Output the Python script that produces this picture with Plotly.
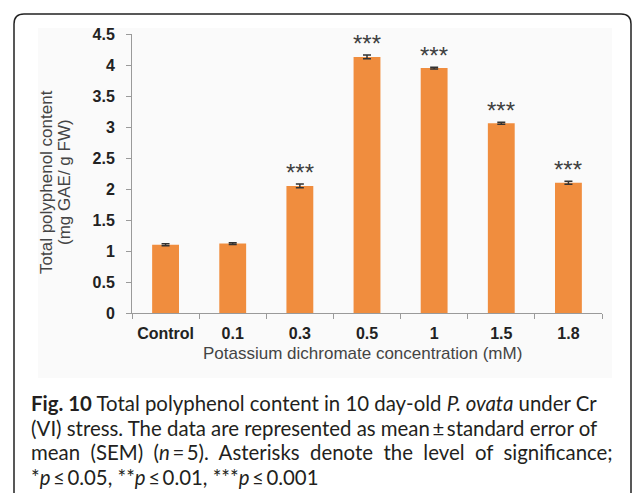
import plotly.graph_objects as go

categories = ["Control", "0.1", "0.3", "0.5", "1", "1.5", "1.8"]
polyphenol = [1.10, 1.12, 2.05, 4.13, 3.95, 3.06, 2.10]
sem = [0.015, 0.015, 0.03, 0.03, 0.015, 0.015, 0.025]
significance = ["", "", "***", "***", "***", "***", "***"]

W, H = 633, 493
L, R, T, B = 132, 31, 34, 180
PW, PH = W - L - R, H - T - B


def px(x):
    return (x - L) / PW


def py(y):
    return (H - B - y) / PH


fig = go.Figure()
fig.add_trace(go.Bar(
    x=categories, y=polyphenol,
    marker=dict(color="#F08D3E", line=dict(width=0)),
    error_y=dict(type="data", array=sem, color="#333333", thickness=1.5, width=4),
    width=0.4,
))

for i, (val, err, sig) in enumerate(zip(polyphenol, sem, significance)):
    if sig:
        fig.add_annotation(x=i, y=val + err, text=sig, showarrow=False,
                           yanchor="bottom", yshift=-4,
                           font=dict(family="Liberation Sans", size=24, color="#3f3f3f"))

# axis titles
title_font = dict(family="Liberation Sans", size=17, color="#444444")
for xpos, txt in [(46, "Total polyphenol content"), (64, "(mg GAE/ g FW)")]:
    fig.add_annotation(xref="paper", yref="paper", x=px(xpos), y=py(182),
                       text=txt, textangle=-90, showarrow=False,
                       xanchor="center", yanchor="middle", font=title_font)
fig.add_annotation(xref="paper", yref="paper", x=px(362), y=py(353),
                   text="Potassium dichromate concentration (mM)",
                   showarrow=False, xanchor="center", yanchor="middle",
                   font=dict(family="Liberation Sans", size=17, color="#444444"))

# panel background and rounded frame
fig.add_shape(type="rect", xref="paper", yref="paper", layer="below",
              x0=px(38), x1=px(612), y0=py(378), y1=py(28),
              fillcolor="#fafafa", line=dict(width=0))
r = 10
frame = (f"M {px(14)},{py(500)} L {px(14)},{py(14 + r)} "
         f"Q {px(14)},{py(14)} {px(14 + r)},{py(14)} "
         f"L {px(631 - r)},{py(14)} Q {px(631)},{py(14)} {px(631)},{py(14 + r)} "
         f"L {px(631)},{py(500)}")
fig.add_shape(type="path", xref="paper", yref="paper", path=frame,
              line=dict(color="#222222", width=1.5))

wide = " \u00a0"
caption = [
    "<b>Fig. 10</b> Total polyphenol content in 10 day-old <i>P. ovata</i> under Cr",
    "(VI) stress. The data are represented as mean\u2009\u00b1\u2009standard error of",
    wide.join(["mean", "(SEM)", "(<i>n</i>\u2009=\u20095).", "Asterisks", "denote",
               "the", "level", "of", "significance;"]),
    "*<i>p</i>\u2009\u2264\u20090.05, **<i>p</i>\u2009\u2264\u20090.01, ***<i>p</i>\u2009\u2264\u20090.001",
]
for i, line in enumerate(caption):
    fig.add_annotation(xref="paper", yref="paper", x=px(29), y=py(403 + i * 24.5),
                       text=line, showarrow=False, xanchor="left", yanchor="middle",
                       font=dict(family="Lato", size=20.4, color="#231f20"))

fig.update_layout(
    width=W, height=H,
    margin=dict(l=L, r=R, t=T, b=B, autoexpand=False),
    paper_bgcolor="white", plot_bgcolor="rgba(0,0,0,0)",
    showlegend=False,
    font=dict(family="Liberation Sans"),
)
fig.update_xaxes(
    automargin=False, showline=True, linecolor="#9a9a9a", linewidth=1,
    ticks="outside", tickson="boundaries", ticklen=5, tickcolor="#9a9a9a",
    ticklabelstandoff=6,
    tickfont=dict(size=16, color="#222222", family="Liberation Sans", weight="bold"),
    showgrid=False,
)
fig.update_yaxes(
    automargin=False, range=[0, 4.5], dtick=0.5, showline=True, linecolor="#9a9a9a",
    linewidth=1, ticks="outside", ticklen=5, tickcolor="#9a9a9a", showgrid=False,
    zeroline=False, ticklabelstandoff=8,
    tickfont=dict(size=16, color="#222222", family="Liberation Sans", weight="bold"),
)

fig.write_html("out.html", config={"displayModeBar": False})
with open("out.html") as f:
    page = f.read()
with open("out.html", "w") as f:
    f.write(page.replace("<body>", '<body style="margin:0;overflow:hidden">', 1))
